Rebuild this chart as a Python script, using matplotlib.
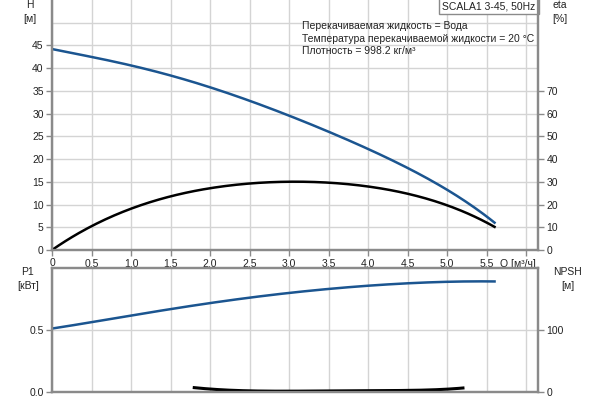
import numpy as np
import matplotlib
matplotlib.use('Agg')
import matplotlib.pyplot as plt

plt.rcParams['font.family'] = ['Liberation Sans', 'DejaVu Sans']
plt.rcParams['font.size'] = 7.5

# данные кривых
q_h = [0, 0.5, 1.0, 1.5, 2.0, 2.5, 3.0, 3.5, 4.0, 4.5, 5.0, 5.6]
h = [44.2, 42.5, 40.6, 38.4, 35.7, 32.9, 29.6, 26.0, 22.2, 18.0, 13.3, 6.0]
eta = [0, 10.5, 18.2, 23.5, 27.2, 29.4, 30.0, 29.5, 27.9, 25.0, 19.5, 10.2]
p1 = [0.51, 0.562, 0.615, 0.668, 0.715, 0.76, 0.80, 0.83, 0.856, 0.876, 0.889, 0.891]
q_npsh = [1.8, 2.0, 2.2, 2.5, 3.0, 3.5, 4.0, 4.5, 5.0, 5.2]
npsh = [6.5, 4.0, 2.5, 1.3, 0.8, 0.9, 1.4, 2.2, 3.6, 6.0]

title = 'SCALA1 3-45, 50Hz'
info = ['Перекачиваемая жидкость = Вода',
        'Температура перекачиваемой жидкости = 20 °C',
        'Плотность = 998.2 кг/м³']

blue = '#1b5590'
spine_c = '#8a8a8a'
grid_c = '#d4d4d4'
txt_c = '#222222'


def smooth(x, y, n=200):
    xs = np.linspace(x[0], x[-1], n)
    c = np.polyfit(x, y, min(5, len(x) - 1))
    return xs, np.polyval(c, xs)


fig = plt.figure(figsize=(6, 4), dpi=100)
ax = fig.add_axes([0.0867, 0.375, 0.81, 0.625])
ax2 = ax.twinx()
bx = fig.add_axes([0.0867, 0.021, 0.81, 0.309])
bx2 = bx.twinx()

xmax = 6.15
for a in (ax, bx):
    a.set_xlim(0, xmax)
    a.set_xticks(np.arange(0, 6.01, 0.5))
    a.grid(True, color=grid_c, lw=1)
    a.set_axisbelow(True)

ax.set_ylim(0, 55)
ax.set_yticks(np.arange(0, 46, 5))
ax.axhline(50, color=grid_c, lw=1, zorder=0)
ax2.set_ylim(0, 110)
ax2.set_yticks(np.arange(0, 71, 10))

xlabels = [('%.1f' % v).replace('.', ',') if v < 5.9 else '' for v in np.arange(0, 6.01, 0.5)]
xlabels[0] = '0'
ax.set_xticklabels(xlabels)
bx.set_xticklabels([])

bx.set_ylim(0, 1.0)
bx.set_yticks([0.0, 0.5])
bx.set_yticklabels(['0.0', '0.5'])
bx2.set_ylim(0, 200)
bx2.set_yticks([0, 100])

for a in (ax, ax2, bx, bx2):
    for s in a.spines.values():
        s.set_color(spine_c)
        s.set_linewidth(1.6)
    a.tick_params(colors=spine_c, labelcolor=txt_c, length=4, width=1, pad=2)
ax.spines['top'].set_visible(False)
ax2.spines['top'].set_visible(False)
bx.tick_params(axis='x', length=0)

# кривые
xs, ys = smooth(q_h, h)
ax.plot(xs, ys, color=blue, lw=1.8)
xs, ys = smooth(q_h, eta)
ax2.plot(xs, ys, color='black', lw=1.8)
xs, ys = smooth(q_h, p1)
bx.plot(xs, ys, color=blue, lw=1.8)
xs, ys = smooth(q_npsh, npsh)
bx2.plot(xs, ys, color='black', lw=2.2)

# подписи осей
fig.text(30 / 600, 1 - 12 / 400, 'H\n[м]', ha='center', va='center', color=txt_c, linespacing=1.5)
fig.text(560 / 600, 1 - 12 / 400, 'eta\n[%]', ha='center', va='center', color=txt_c, linespacing=1.5)
fig.text(28 / 600, 1 - 279 / 400, 'P1\n[кВт]', ha='center', va='center', color=txt_c, linespacing=1.5)
fig.text(568 / 600, 1 - 279 / 400, 'NPSH\n[м]', ha='center', va='center', color=txt_c, linespacing=1.5)
ax.text(5.67, -0.035, 'Q [м³/ч]', transform=ax.get_xaxis_transform(), ha='left', va='top', color=txt_c)

ax.text(0.995, 0.995, title, transform=ax.transAxes, ha='right', va='top', color=txt_c,
        bbox=dict(boxstyle='square,pad=0.3', fc='white', ec=spine_c, lw=1), zorder=10)
for i, line in enumerate(info):
    fig.text(302 / 600, 1 - (26 + 12.5 * i) / 400, line, ha='left', va='center', color=txt_c)

fig.savefig('out.png', dpi=100)
